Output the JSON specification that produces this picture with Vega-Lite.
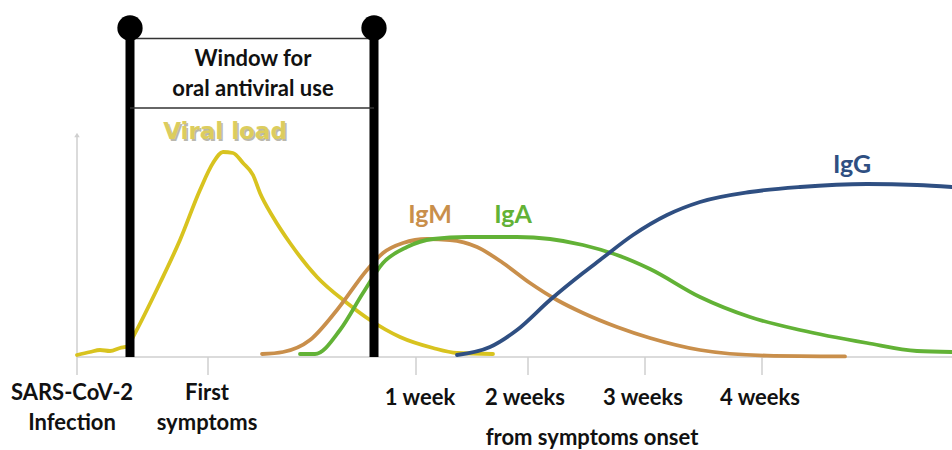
{
  "$schema": "https://vega.github.io/schema/vega-lite/v6.json",
  "width": 875,
  "height": 357,
  "autosize": {"type": "none"},
  "padding": {"left": 77, "top": 0, "right": 0, "bottom": 93},
  "background": "white",
  "config": {"view": {"stroke": null}, "text": {"font": "Lato"}},
  "encoding": {
    "x": {"field": "x", "type": "quantitative", "scale": {"domain": [0, 87.5], "nice": false, "zero": false}, "axis": null},
    "y": {"field": "y", "type": "quantitative", "scale": {"domain": [0, 178.5], "nice": false, "zero": false}, "axis": null}
  },
  "layer": [
    {
      "data": {"values": [
        {"x": 0, "y": 0, "x2": 87.5, "y2": 0},
        {"x": 0, "y": -9, "x2": 0, "y2": 110},
        {"x": 13.1, "y": -9, "x2": 13.1, "y2": 0},
        {"x": 33.9, "y": -9, "x2": 33.9, "y2": 0},
        {"x": 45.1, "y": -9, "x2": 45.1, "y2": 0},
        {"x": 56.8, "y": -9, "x2": 56.8, "y2": 0},
        {"x": 68.5, "y": -9, "x2": 68.5, "y2": 0}
      ]},
      "mark": {"type": "rule", "color": "#cfcfcf", "strokeWidth": 1.5},
      "encoding": {"x2": {"field": "x2"}, "y2": {"field": "y2"}}
    },
    {
      "data": {"values": [{"x": 0, "y": 111}]},
      "mark": {"type": "point", "shape": "triangle-up", "filled": true, "color": "#cfcfcf", "size": 30, "opacity": 1},
      "encoding": {}
    },
    {
      "data": {"values": [
        {"series": "Viral load", "x": 0, "y": 1},
        {"series": "Viral load", "x": 1.3, "y": 2.5},
        {"series": "Viral load", "x": 2.3, "y": 3.5},
        {"series": "Viral load", "x": 3.3, "y": 3},
        {"series": "Viral load", "x": 4.3, "y": 4.5},
        {"series": "Viral load", "x": 5.1, "y": 5.5},
        {"series": "Viral load", "x": 5.6, "y": 10},
        {"series": "Viral load", "x": 8.3, "y": 37},
        {"series": "Viral load", "x": 10.3, "y": 58.5},
        {"series": "Viral load", "x": 12.3, "y": 83.5},
        {"series": "Viral load", "x": 13.6, "y": 97},
        {"series": "Viral load", "x": 14.6, "y": 102.5},
        {"series": "Viral load", "x": 15.6, "y": 102},
        {"series": "Viral load", "x": 16.6, "y": 97},
        {"series": "Viral load", "x": 17.6, "y": 91},
        {"series": "Viral load", "x": 18.3, "y": 82},
        {"series": "Viral load", "x": 19.6, "y": 70},
        {"series": "Viral load", "x": 21.3, "y": 57},
        {"series": "Viral load", "x": 24, "y": 40},
        {"series": "Viral load", "x": 27, "y": 27},
        {"series": "Viral load", "x": 29.3, "y": 18.5},
        {"series": "Viral load", "x": 32.3, "y": 10},
        {"series": "Viral load", "x": 35.6, "y": 4.5},
        {"series": "Viral load", "x": 38, "y": 2},
        {"series": "Viral load", "x": 41.6, "y": 1.5},
        {"series": "IgM", "x": 18.5, "y": 1.5},
        {"series": "IgM", "x": 20.6, "y": 2.5},
        {"series": "IgM", "x": 23.3, "y": 8.5},
        {"series": "IgM", "x": 26, "y": 23.5},
        {"series": "IgM", "x": 29, "y": 43.5},
        {"series": "IgM", "x": 30.6, "y": 52},
        {"series": "IgM", "x": 32.6, "y": 57},
        {"series": "IgM", "x": 35, "y": 59},
        {"series": "IgM", "x": 37.3, "y": 58.5},
        {"series": "IgM", "x": 40, "y": 55},
        {"series": "IgM", "x": 42.6, "y": 47},
        {"series": "IgM", "x": 45.3, "y": 37},
        {"series": "IgM", "x": 48, "y": 28.5},
        {"series": "IgM", "x": 50.6, "y": 22},
        {"series": "IgM", "x": 54, "y": 15},
        {"series": "IgM", "x": 57.3, "y": 9.5},
        {"series": "IgM", "x": 62.3, "y": 3.5},
        {"series": "IgM", "x": 69, "y": 0.7},
        {"series": "IgM", "x": 76.8, "y": 0.3},
        {"series": "IgA", "x": 22.3, "y": 1.5},
        {"series": "IgA", "x": 23.8, "y": 1.5},
        {"series": "IgA", "x": 26.3, "y": 13.5},
        {"series": "IgA", "x": 28.6, "y": 32},
        {"series": "IgA", "x": 30.6, "y": 47},
        {"series": "IgA", "x": 33, "y": 55},
        {"series": "IgA", "x": 35.6, "y": 59},
        {"series": "IgA", "x": 39, "y": 60},
        {"series": "IgA", "x": 44, "y": 60},
        {"series": "IgA", "x": 47.3, "y": 59},
        {"series": "IgA", "x": 50.6, "y": 56},
        {"series": "IgA", "x": 54, "y": 51},
        {"series": "IgA", "x": 57.3, "y": 44},
        {"series": "IgA", "x": 62.3, "y": 30},
        {"series": "IgA", "x": 67.3, "y": 20},
        {"series": "IgA", "x": 72.3, "y": 13.5},
        {"series": "IgA", "x": 79, "y": 7},
        {"series": "IgA", "x": 84, "y": 3},
        {"series": "IgA", "x": 87.5, "y": 2.5},
        {"series": "IgG", "x": 38, "y": 1},
        {"series": "IgG", "x": 41.3, "y": 5},
        {"series": "IgG", "x": 44, "y": 13.5},
        {"series": "IgG", "x": 47.3, "y": 28.5},
        {"series": "IgG", "x": 50.6, "y": 42},
        {"series": "IgG", "x": 52.3, "y": 48.5},
        {"series": "IgG", "x": 55.6, "y": 61},
        {"series": "IgG", "x": 59, "y": 71},
        {"series": "IgG", "x": 62.3, "y": 77.5},
        {"series": "IgG", "x": 67.3, "y": 82.5},
        {"series": "IgG", "x": 72.3, "y": 85},
        {"series": "IgG", "x": 79, "y": 86.5},
        {"series": "IgG", "x": 84, "y": 86},
        {"series": "IgG", "x": 87.5, "y": 85}
      ]},
      "mark": {"type": "line", "strokeWidth": 3.8, "interpolate": "monotone", "strokeCap": "round"},
      "encoding": {
        "color": {"field": "series", "type": "nominal", "scale": {"domain": ["Viral load", "IgM", "IgA", "IgG"], "range": ["#d8c31f", "#c98f4b", "#62b236", "#2f4f82"]}, "legend": null},
        "detail": {"field": "series"}
      }
    },
    {
      "data": {"values": [
        {"x": 5.3, "y": 0, "x2": 5.3, "y2": 164.5},
        {"x": 29.7, "y": 0, "x2": 29.7, "y2": 164.5}
      ]},
      "mark": {"type": "rule", "color": "#000000", "strokeWidth": 9},
      "encoding": {"x2": {"field": "x2"}, "y2": {"field": "y2"}}
    },
    {
      "data": {"values": [
        {"x": 5.3, "y": 159.25, "x2": 29.7, "y2": 159.25},
        {"x": 5.3, "y": 124.5, "x2": 29.7, "y2": 124.5}
      ]},
      "mark": {"type": "rule", "color": "#333333", "strokeWidth": 1.5},
      "encoding": {"x2": {"field": "x2"}, "y2": {"field": "y2"}}
    },
    {
      "data": {"values": [{"x": 5.3, "y": 164.5}, {"x": 29.7, "y": 164.5}]},
      "mark": {"type": "point", "shape": "circle", "filled": true, "color": "#000000", "size": 640, "opacity": 1},
      "encoding": {}
    },
    {
      "data": {"values": [
        {"x": 17.6, "y": 145.5, "label": "Window for"},
        {"x": 17.6, "y": 130.5, "label": "oral antiviral use"}
      ]},
      "mark": {"type": "text", "fontSize": 22, "fontWeight": "bold", "color": "#111111", "align": "center", "baseline": "alphabetic"},
      "encoding": {"text": {"field": "label"}}
    },
    {
      "data": {"values": [
        {"x": -0.5, "y": -21.5, "label": "SARS-CoV-2\nInfection"},
        {"x": 13.0, "y": -21.5, "label": "First\nsymptoms"},
        {"x": 34.3, "y": -24, "label": "1 week"},
        {"x": 44.8, "y": -24, "label": "2 weeks"},
        {"x": 56.6, "y": -24, "label": "3 weeks"},
        {"x": 68.3, "y": -24, "label": "4 weeks"},
        {"x": 51.5, "y": -44, "label": "from symptoms onset"}
      ]},
      "mark": {"type": "text", "fontSize": 22, "fontWeight": "bold", "color": "#111111", "align": "center", "baseline": "alphabetic", "lineBreak": "\n", "lineHeight": 30},
      "encoding": {"text": {"field": "label"}}
    },
    {
      "data": {"values": [{"x": 14.8, "y": 109, "label": "Viral load"}]},
      "mark": {"type": "text", "font": "DejaVu Sans", "fontSize": 23, "fontWeight": "bold", "color": "#8d8a78", "opacity": 0.6, "align": "center", "baseline": "alphabetic", "dx": 1.5, "dy": 1.5},
      "encoding": {"text": {"field": "label"}}
    },
    {
      "data": {"values": [{"x": 14.8, "y": 109, "label": "Viral load"}]},
      "mark": {"type": "text", "font": "DejaVu Sans", "fontSize": 23, "fontWeight": "bold", "color": "#dccd5e", "align": "center", "baseline": "alphabetic"},
      "encoding": {"text": {"field": "label"}}
    },
    {
      "data": {"values": [
        {"x": 35.3, "y": 67, "label": "IgM", "c": "IgM"},
        {"x": 43.6, "y": 67, "label": "IgA", "c": "IgA"},
        {"x": 77.5, "y": 92, "label": "IgG", "c": "IgG"}
      ]},
      "mark": {"type": "text", "fontSize": 25, "fontWeight": "bold", "align": "center", "baseline": "alphabetic"},
      "encoding": {
        "text": {"field": "label"},
        "color": {"field": "c", "type": "nominal", "scale": {"domain": ["Viral load", "IgM", "IgA", "IgG"], "range": ["#d8c31f", "#c98f4b", "#62b236", "#2f4f82"]}, "legend": null}
      }
    }
  ]
}
